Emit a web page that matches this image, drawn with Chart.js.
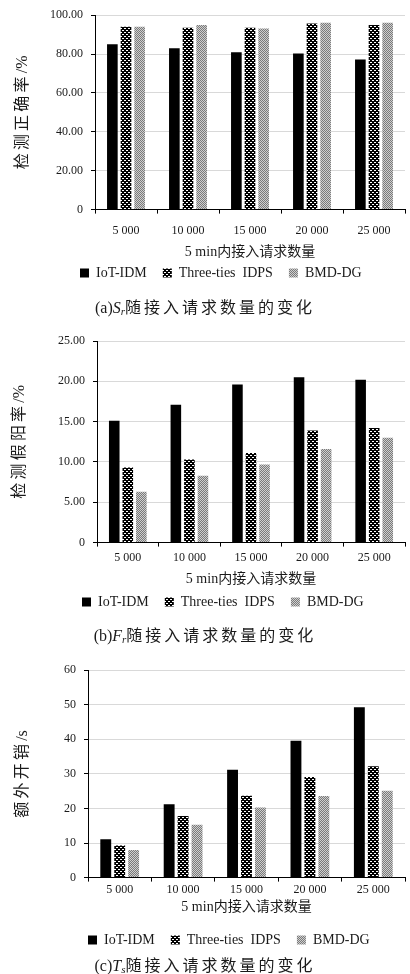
<!DOCTYPE html>
<html>
<head>
<meta charset="utf-8">
<script src="https://cdn.jsdelivr.net/npm/chart.js@4.4.0/dist/chart.umd.min.js"></script>
<style>
  body { margin: 0; background: #fff; width: 410px; height: 974px; position: relative; overflow: hidden; }
  canvas { position: absolute; left: 0; }
  .cap { position: absolute; left: 0; width: 410px; text-align: center; line-height: 20px;
         font: 16px "Liberation Serif", "Noto Sans CJK SC", serif; color: #1a1a1a; z-index: 2; }
  .cap .zh { letter-spacing: 3px; }
  .cap sub { font-size: 11px; font-style: italic; vertical-align: -2px; }
</style>
</head>
<body>
<canvas id="chartA" width="410" height="301" style="top:0px"></canvas>
<canvas id="chartB" width="410" height="303" style="top:325px"></canvas>
<canvas id="chartC" width="410" height="301" style="top:655px"></canvas>
<div class="cap" style="top:294px">(a)<i>S</i><sub>r</sub><span class="zh">随接入请求数量的变化</span></div>
<div class="cap" style="top:622px">(b)<i>F</i><sub>r</sub><span class="zh">随接入请求数量的变化</span></div>
<div class="cap" style="top:952px">(c)<i>T</i><sub>s</sub><span class="zh">随接入请求数量的变化</span></div>

<script>
// categorias y series
const categories = ['5 000', '10 000', '15 000', '20 000', '25 000'];
const seriesNames = ['IoT-IDM', 'Three-ties  IDPS', 'BMD-DG'];

// (a) 检测正确率 /%
const accIoT   = [85.0, 83.0, 81.0, 80.3, 77.2];
const accThree = [94.0, 93.5, 93.5, 95.7, 94.9];
const accBMD   = [94.0, 94.9, 93.2, 96.1, 96.1];
const accTicks = [0, 20, 40, 60, 80, 100];

// (b) 检测假阳率 /%
const fprIoT   = [15.1, 17.1, 19.6, 20.5, 20.2];
const fprThree = [9.3, 10.3, 11.1, 13.9, 14.2];
const fprBMD   = [6.3, 8.3, 9.7, 11.6, 13.0];
const fprTicks = [0, 5, 10, 15, 20, 25];

// (c) 额外开销 /s
const costIoT   = [11.1, 21.2, 31.2, 39.6, 49.3];
const costThree = [9.3, 17.8, 23.7, 29.1, 32.2];
const costBMD   = [8.0, 15.3, 20.3, 23.6, 25.1];
const costTicks = [0, 10, 20, 30, 40, 50, 60];

const SERIF = '"Liberation Serif", "Noto Sans CJK SC", serif';
Chart.defaults.font.family = SERIF;
Chart.defaults.color = '#1a1a1a';

/**
 * Patrones de relleno de las barras
 */
function makeCheckPattern() {
  const c = document.createElement('canvas');
  c.width = 4; c.height = 4;
  const g = c.getContext('2d');
  g.fillStyle = '#000000'; g.fillRect(0, 0, 4, 4);
  g.fillStyle = '#ffffff';
  g.fillRect(0, 0, 2, 1);
  g.fillRect(2, 2, 2, 1);
  return g.createPattern(c, 'repeat');
}
function makeGrayPattern() {
  const c = document.createElement('canvas');
  c.width = 2; c.height = 2;
  const g = c.getContext('2d');
  g.fillStyle = '#cfcfcf'; g.fillRect(0, 0, 2, 2);
  g.fillStyle = '#7a7a7a'; g.fillRect(0, 0, 1, 1); g.fillRect(1, 1, 1, 1);
  return g.createPattern(c, 'repeat');
}
const checkFill = makeCheckPattern();
const grayFill = makeGrayPattern();

// mueve la leyenda a la posicion de la figura original
const legendShift = {
  id: 'legendShift',
  afterLayout(chart, args, opts) {
    const lg = chart.legend;
    const pad = lg.options.labels.padding;
    const dy = opts.y - (lg.top + pad + 7);
    const dx = opts.x - (lg.left + pad);
    lg.top += dy; lg.bottom += dy;
    lg.left += dx; lg.right += dx;
  }
};

function buildChart(id, data, ticks, fmt, yTitle, spec) {
  const xH = spec.titleY + 8.4 - spec.bottom;
  new Chart(document.getElementById(id), {
    type: 'bar',
    data: {
      labels: categories,
      datasets: [
        { label: seriesNames[0], data: data[0], backgroundColor: '#000000', borderWidth: 0 },
        { label: seriesNames[1], data: data[1], backgroundColor: checkFill, borderWidth: 0 },
        { label: seriesNames[2], data: data[2], backgroundColor: grayFill, borderWidth: 0 }
      ]
    },
    options: {
      responsive: false,
      animation: false,
      datasets: { bar: { categoryPercentage: 0.66, barPercentage: 0.78 } },
      layout: { padding: { top: spec.top, right: 5, left: 0, bottom: 0 } },
      scales: {
        x: {
          grid: { drawOnChartArea: false, tickLength: 4, tickColor: '#000' },
          border: { color: '#000', width: 1 },
          ticks: { font: { size: 12 }, padding: spec.catY - spec.bottom - 11.2, color: '#1a1a1a' },
          title: { display: true, text: '5 min内接入请求数量', font: { size: 14 }, padding: 0, color: '#1a1a1a' },
          afterFit: s => { s.height = xH; }
        },
        y: {
          min: ticks[0],
          max: ticks[ticks.length - 1],
          grid: { color: '#d9d9d9', tickColor: '#000', tickLength: 4 },
          border: { color: '#000', width: 1 },
          ticks: { font: { size: 12 }, padding: 8, color: '#1a1a1a', callback: fmt },
          afterBuildTicks: s => { s.ticks = ticks.map(v => ({ value: v })); },
          title: { display: true, text: yTitle, font: { size: 16 }, padding: { top: spec.yTitleX - 9.6, bottom: 0 }, color: '#1a1a1a' },
          afterFit: s => { s.width = spec.left; }
        }
      },
      plugins: {
        legend: {
          position: 'bottom',
          align: 'start',
          labels: { boxWidth: 9, boxHeight: 9, padding: 16, font: { size: 14 }, color: '#1a1a1a' }
        },
        tooltip: { enabled: false },
        legendShift: { x: spec.legendX, y: spec.legendY }
      }
    },
    plugins: [legendShift]
  });
}

const fmt2 = v => (v === 0 ? '0' : v.toFixed(2));
const fmt0 = v => String(v);

buildChart('chartA', [accIoT, accThree, accBMD], accTicks, fmt2, '检\u2009测\u2009正\u2009确\u2009率\u2009/%',
  { left: 95, top: 13, bottom: 209, catY: 230, titleY: 252, legendY: 273, legendX: 80, yTitleX: 23 });
buildChart('chartB', [fprIoT, fprThree, fprBMD], fprTicks, fmt2, '检\u2009测\u2009假\u2009阳\u2009率\u2009/%',
  { left: 97, top: 16, bottom: 217, catY: 232, titleY: 254, legendY: 277, legendX: 82, yTitleX: 20 });
buildChart('chartC', [costIoT, costThree, costBMD], costTicks, fmt0, '额\u2009外\u2009开\u2009销\u2009/s',
  { left: 88, top: 14, bottom: 222, catY: 234, titleY: 252, legendY: 285, legendX: 88, yTitleX: 23 });
</script>
</body>
</html>
